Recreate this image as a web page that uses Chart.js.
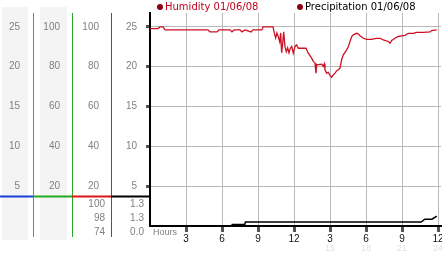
<!DOCTYPE html>
<html>
<head>
<meta charset="utf-8">
<script src="https://cdn.jsdelivr.net/npm/chart.js@4.4.1/dist/chart.umd.min.js"></script>
<style>
  body { margin: 0; background: #fff; }
  #wrap { position: relative; width: 442px; height: 253px; }
  .key { position: absolute; top: 0; font: 10px "DejaVu Sans", sans-serif; line-height: 13px; white-space: nowrap; }
  .key i { display: inline-block; width: 6px; height: 6px; border-radius: 50%; background: #8a0010; margin-right: 2px; }
</style>
</head>
<body>
<div id="wrap">
  <canvas id="chart" width="442" height="253"></canvas>
  <div class="key" id="keyHum" style="left:157px;color:#c0001c"><i></i><span></span></div>
  <div class="key" id="keyPrec" style="left:297px;color:#000"><i></i><span></span></div>
</div>
<script>
const seriesNames = ["Humidity 01/06/08", "Precipitation 01/06/08"];

// humidity (%), hours since midnight
const humHours = [0, 0.67, 0.83, 1.08, 1.25, 4.83, 5.0, 5.58, 5.75, 6.67, 6.83, 7.0, 7.5, 7.67, 7.92,
  8.42, 8.58, 9.33, 9.42, 10.25, 10.36, 10.47, 10.58, 10.69, 10.81, 10.89, 10.97, 11.06, 11.14,
  11.25, 11.36, 11.47, 11.58, 11.69, 11.81, 11.94, 12.08, 12.22, 12.36, 13.0, 13.19, 13.47, 13.61,
  13.75, 13.83, 13.89, 14.31, 14.44, 14.53, 14.58, 14.72, 14.86, 15.0, 15.14, 15.28, 15.42, 15.56,
  15.69, 15.83, 15.97, 16.11, 16.39, 16.53, 16.67, 16.81, 16.94, 17.22, 17.36, 17.5, 17.78, 18.06,
  18.47, 18.83, 19.17, 19.44, 19.86, 20.0, 20.14, 20.42, 20.69, 20.97, 21.25, 21.53, 21.94, 22.22,
  22.78, 23.33, 23.47, 23.89];
const humValues = [99.2, 99.2, 100, 100, 98.5, 98.5, 97.5, 97.5, 98.5, 98.5, 97.5, 98.5, 98.5, 97.5, 98.5,
  97.5, 98.5, 98.5, 100, 100, 97, 94.5, 97, 95, 92.5, 97, 87, 92, 97.5,
  90, 87.5, 89.5, 87, 89.3, 90.2, 86.8, 90.2, 91, 89.3, 89.3, 86.8, 84.3, 82.7,
  81.8, 76.8, 81, 81.3, 80.2, 81.5, 78.5, 76.8, 77.2, 75.5, 74.7, 76, 76.8, 78,
  78.5, 79.3, 83.5, 86, 88.5, 90.2, 92.7, 95.2, 96, 96.8, 96.5, 95.5, 94.3, 93.8,
  93.8, 94.3, 94.3, 93.5, 92.7, 91.8, 93.2, 94.3, 95.2, 95.5, 95.8, 96.8, 96.8, 97.3,
  97.3, 97.5, 98.2, 98.5];

// precipitation
const precHours = [0, 6.8, 6.85, 7.9, 7.95, 22.6, 22.9, 23.5, 23.9];
const precValues = [0, 0, 0.2, 0.2, 0.5, 0.5, 0.85, 0.85, 1.25];

// max / current / min readouts under the scales
const humStats = ["100", "98", "74"];
const precStats = ["1.3", "1.3", "0.0"];

const smallTicks = [5, 10, 15, 20, 25];
const pctTicks = [20, 40, 60, 80, 100];
const hourTicks = [3, 6, 9, 12, 15, 18, 21, 24];
const hourLabels = ["3", "6", "9", "12", "3", "6", "9", "12"];
const clockTicks = [15, 18, 21, 24];
const clockLabels = ["15", "18", "21", "24"];

document.querySelector("#keyHum span").textContent = seriesNames[0];
document.querySelector("#keyPrec span").textContent = seriesNames[1];

const labelFont = { family: "Liberation Sans", size: 10 };
const TOP = 26.75;

function fitSide(width) {
  return s => {
    s.width = width;
    s.paddingTop = 0;
    s.paddingBottom = 0;
  };
}

function sideAxis(weight, width, max, tickVals, pad) {
  return {
    type: "linear",
    position: "left",
    weight: weight,
    min: 0,
    max: max,
    afterBuildTicks: s => { s.ticks = tickVals.map(v => ({ value: v })); },
    afterFit: fitSide(width),
    grid: { display: false, drawTicks: false },
    border: { display: false },
    ticks: { padding: pad, color: "#808080", font: labelFont }
  };
}

const decor = {
  id: "decor",
  beforeDraw(chart) {
    const ctx = chart.ctx;
    const s = chart.scales;
    ctx.save();
    ctx.fillStyle = "#f4f4f4";
    ctx.fillRect(s.c1.left + 2, 7, s.c1.right - s.c1.left - 7, 233);
    ctx.fillRect(s.c2.left + 7, 7, s.c2.right - s.c2.left - 12, 233);
    ctx.restore();
  },
  afterDraw(chart) {
    const ctx = chart.ctx;
    const s = chart.scales;
    const a = chart.chartArea;
    ctx.save();
    // column borders
    [[s.c1, "#2c9fc6"], [s.c2, "#28a828"], [s.c3, "#cc2222"]].forEach(([sc, col]) => {
      ctx.strokeStyle = col;
      ctx.lineWidth = 1;
      ctx.beginPath();
      ctx.moveTo(sc.right + 0.5, a.top);
      ctx.lineTo(sc.right + 0.5, a.bottom + 11);
      ctx.stroke();
    });
    // coloured separators
    const yLine = a.bottom - 29.5;
    [[s.c1, "#1a3fd8"], [s.c2, "#22aa22"], [s.c3, "#dd1515"], [s.c4, "#000"]].forEach(([sc, col]) => {
      ctx.strokeStyle = col;
      ctx.lineWidth = 2;
      ctx.beginPath();
      ctx.moveTo(sc.left, yLine);
      ctx.lineTo(sc.right, yLine);
      ctx.stroke();
    });
    // readouts
    ctx.font = "10px 'Liberation Sans'";
    ctx.fillStyle = "#808080";
    ctx.textAlign = "right";
    ctx.textBaseline = "middle";
    humStats.forEach((t, i) => ctx.fillText(t, s.c3.right - 6, a.bottom - 21.7 + i * 14));
    precStats.forEach((t, i) => ctx.fillText(t, s.c4.right - 6, a.bottom - 21.7 + i * 14));
    // axis caption
    ctx.font = "9px 'Liberation Sans'";
    ctx.textAlign = "left";
    ctx.fillText("Hours", a.left + 3, a.bottom + 6.5);
    ctx.restore();
  }
};

new Chart(document.getElementById("chart"), {
  type: "line",
  data: {
    datasets: [
      {
        label: seriesNames[0],
        data: humHours.map((h, i) => ({ x: h, y: humValues[i] })),
        yAxisID: "c3",
        borderColor: "#cc1122",
        borderWidth: 1.3,
        pointRadius: 0,
        tension: 0
      },
      {
        label: seriesNames[1],
        data: precHours.map((h, i) => ({ x: h, y: precValues[i] })),
        yAxisID: "c4",
        borderColor: "#000",
        borderWidth: 1.5,
        pointRadius: 0,
        tension: 0
      }
    ]
  },
  options: {
    responsive: false,
    animation: false,
    events: [],
    layout: { padding: { top: 13, right: 1, left: 0, bottom: 0 } },
    plugins: { legend: { display: false }, tooltip: { enabled: false } },
    scales: {
      c1: sideAxis(4, 33, TOP, smallTicks, 13),
      c2: sideAxis(3, 39, TOP * 4, pctTicks, 12),
      c3: sideAxis(2, 39, TOP * 4, pctTicks, 12),
      c4: {
        type: "linear",
        position: "left",
        weight: 1,
        min: 0,
        max: TOP,
        afterBuildTicks: s => { s.ticks = smallTicks.map(v => ({ value: v })); },
        afterFit: fitSide(39),
        grid: { color: "#b8b8b8", tickColor: "#555", tickLength: 4, tickWidth: 3 },
        border: { color: "#000", width: 2 },
        ticks: { padding: 9, color: "#808080", font: labelFont }
      },
      x: {
        type: "linear",
        position: "bottom",
        weight: 0,
        min: 0,
        max: 24.25,
        afterBuildTicks: s => { s.ticks = hourTicks.map(v => ({ value: v })); },
        afterFit: s => { s.height = 17; s.paddingLeft = 0; s.paddingRight = 0; },
        grid: { color: "#b8b8b8", tickColor: "#555", tickLength: 6, tickWidth: 3 },
        border: { color: "#000", width: 2 },
        ticks: {
          callback: (v, i) => hourLabels[i],
          padding: 1,
          color: "#111",
          font: labelFont,
          maxRotation: 0,
          autoSkip: false
        }
      },
      x2: {
        type: "linear",
        position: "bottom",
        weight: 1,
        min: 0,
        max: 24.25,
        afterBuildTicks: s => { s.ticks = clockTicks.map(v => ({ value: v })); },
        afterFit: s => { s.height = 10; s.paddingLeft = 0; s.paddingRight = 0; },
        grid: { display: false, drawTicks: false },
        border: { display: false },
        ticks: {
          callback: (v, i) => clockLabels[i],
          padding: 0,
          color: "#e2e2e2",
          font: { family: "Liberation Sans", size: 9 },
          maxRotation: 0,
          autoSkip: false
        }
      }
    }
  },
  plugins: [decor]
});
</script>
</body>
</html>
